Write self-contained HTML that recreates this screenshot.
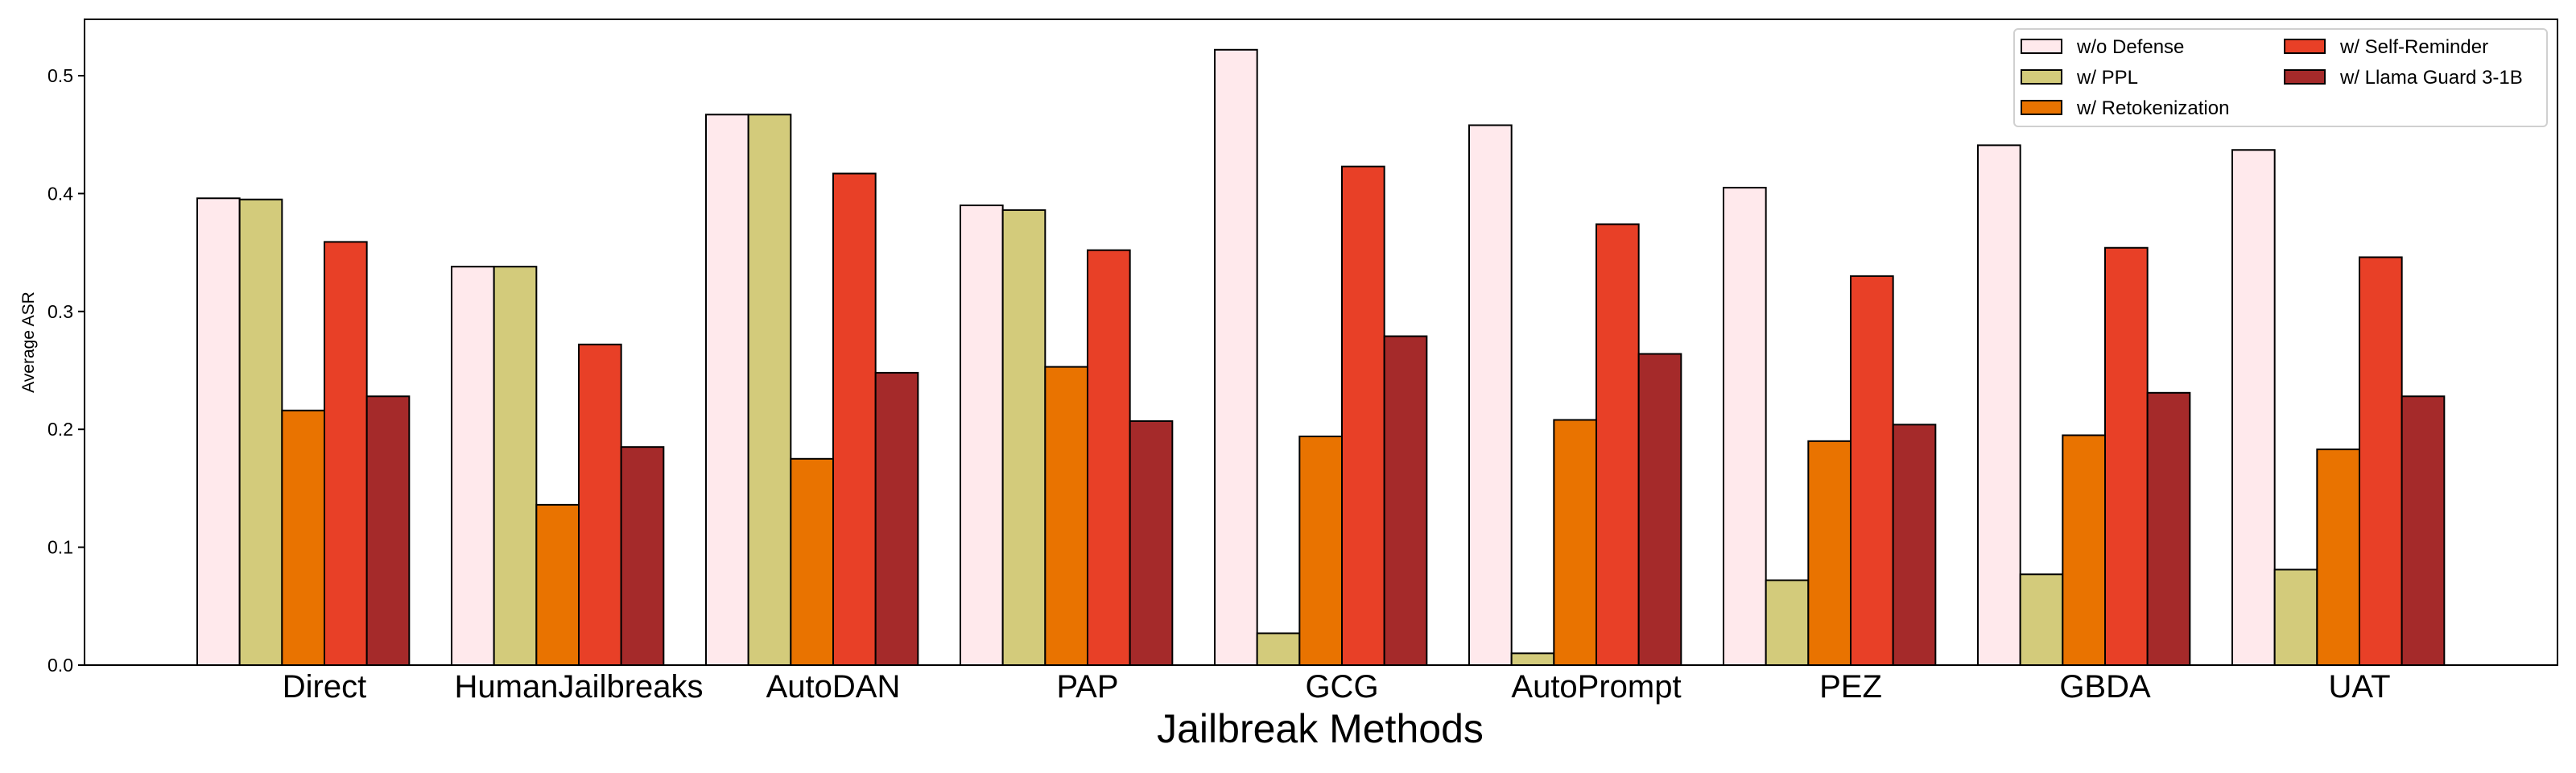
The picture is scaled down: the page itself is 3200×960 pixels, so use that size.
<!DOCTYPE html>
<html><head><meta charset="utf-8"><style>
html,body{margin:0;padding:0;background:#fff;}
svg{display:block;font-family:"Liberation Sans",sans-serif;}
</style></head><body>
<svg id="chart" width="3200" height="960" viewBox="0 0 3200 960" xmlns="http://www.w3.org/2000/svg">
<g id="bars"></g>
<g id="axes"></g>
<g id="legend"></g>
</svg>
<script>
const categories = ["Direct","HumanJailbreaks","AutoDAN","PAP","GCG","AutoPrompt","PEZ","GBDA","UAT"];
const seriesNames = ["w/o Defense","w/ PPL","w/ Retokenization","w/ Self-Reminder","w/ Llama Guard 3-1B"];
const woDefense    = [0.396,0.338,0.467,0.390,0.522,0.458,0.405,0.441,0.437];
const ppl          = [0.395,0.338,0.467,0.386,0.027,0.010,0.072,0.077,0.081];
const retokenize   = [0.216,0.136,0.175,0.253,0.194,0.208,0.190,0.195,0.183];
const selfReminder = [0.359,0.272,0.417,0.352,0.423,0.374,0.330,0.354,0.346];
const llamaGuard   = [0.228,0.185,0.248,0.207,0.279,0.264,0.204,0.231,0.228];
const yTicks = [0.0,0.1,0.2,0.3,0.4,0.5];
const yTickLabels = ["0.0","0.1","0.2","0.3","0.4","0.5"];

const series = [woDefense, ppl, retokenize, selfReminder, llamaGuard];
const colors = ["#ffe9ec","#d3cb7b","#e97300","#e84027","#a52a2a"];
const NS = "http://www.w3.org/2000/svg";
const L = 105, R = 3177, T = 24, B = 826;
const unit = 316, w = unit/6;
function xScale(i){ return 403 + unit*i; }
function yScale(v){ return B - v*1464; }
function mk(tag, attrs, parent){ const e=document.createElementNS(NS,tag); for(const k in attrs) e.setAttribute(k,attrs[k]); parent.appendChild(e); return e; }

const gb = document.getElementById('bars');
series.forEach((vals, s) => {
  vals.forEach((v, i) => {
    const x = xScale(i) - 3*w + s*w;
    const r = mk('rect', {x:x, y:yScale(v), width:w, height:yScale(0)-yScale(v), fill:colors[s], stroke:'#000', 'stroke-width':2}, gb);
    
    
  });
});

const ga = document.getElementById('axes');
const frame = mk('rect', {x:L, y:T, width:R-L, height:B-T, fill:'none', stroke:'#000', 'stroke-width':2}, ga);


yTicks.forEach((t, k) => {
  const y = yScale(t);
  const tk = mk('line', {x1:L-8, x2:L, y1:y, y2:y, stroke:'#000', 'stroke-width':2}, ga);
  
  
  const tx = mk('text', {x:L-14, y:y+8, 'text-anchor':'end', 'font-size':23}, ga);
  tx.textContent = yTickLabels[k];
  
  
});
categories.forEach((c, i) => {
  const tx = mk('text', {x:xScale(i), y:866, 'text-anchor':'middle', 'font-size':40}, ga);
  tx.textContent = c;
  
  
});
const yt = mk('text', {x:0, y:0, 'text-anchor':'middle', 'font-size':21, transform:'translate(42,425) rotate(-90)'}, ga);
yt.textContent = 'Average ASR';


const xt = mk('text', {x:1640, y:922, 'text-anchor':'middle', 'font-size':50}, ga);
xt.textContent = 'Jailbreak Methods';



const gl = document.getElementById('legend');
const lb = mk('rect', {x:2502, y:36, width:662, height:121, rx:5, fill:'#fff', stroke:'#d0d0d0', 'stroke-width':2}, gl);


const pos = [[2511,57],[2511,95],[2511,133],[2838,57],[2838,95]];
seriesNames.forEach((n, s) => {
  const [x, y] = pos[s];
  const sw = mk('rect', {x:x, y:y-8, width:50, height:17, fill:colors[s], stroke:'#000', 'stroke-width':2}, gl);
  
  
  const tx = mk('text', {x:x+69, y:y+9, 'font-size':24}, gl);
  tx.textContent = n;
  
  
});
</script>
</body></html>
